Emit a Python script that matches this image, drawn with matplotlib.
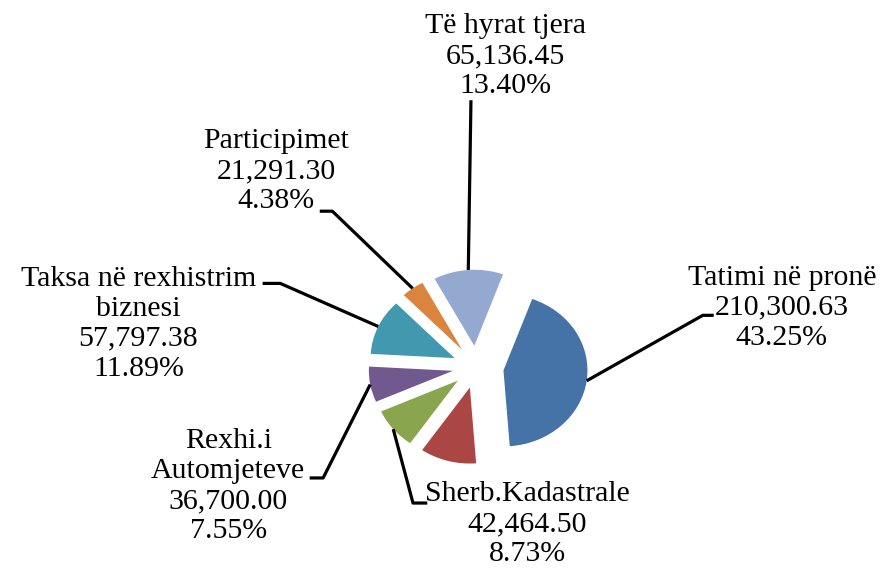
import numpy as np
import matplotlib
matplotlib.use('Agg')
import matplotlib.pyplot as plt

plt.rcParams['font.family'] = ['Liberation Serif', 'DejaVu Serif']

# data (one slice has no label in the original)
categories = ['Tatimi në pronë', '', 'Sherb.Kadastrale', 'Rexhi.i\nAutomjeteve',
              'Taksa në rexhistrim\nbiznesi', 'Participimet', 'Të hyrat tjera']
values = [210300.63, 52553.97, 42464.50, 36700.00, 57797.38, 21291.30, 65136.45]
colors = ['#4572A7', '#AA4643', '#89A54E', '#71588F', '#4198AF', '#DB843D', '#93A9CF']
explode = [0.33, 0.28, 0.28, 0.28, 0.28, 0.28, 0.28]

# label layout: elbow points of leader lines + text centre (data units)
leaders = [
    [(2.70, 0.68), (2.83, 0.68)],
    None,
    [(-0.75, -1.79), (-0.58, -1.79)],
    [(-1.82, -1.46), (-1.98, -1.46)],
    [(-2.33, 1.10), (-2.54, 1.10)],
    [(-1.71, 2.05), (-1.86, 2.05)],
    [(-0.06, 3.51)],
]
text_pos = [(3.64, 0.78), None, (0.61, -2.07), (-2.95, -1.57),
            (-4.02, 0.57), (-2.38, 2.58), (0.35, 4.09)]

fig = plt.figure(figsize=(8.9, 5.69), dpi=100)
ax = fig.add_axes([0, 0, 1, 1])

wedges, _ = ax.pie(values, colors=colors, explode=explode, startangle=70,
                   counterclock=False, radius=1,
                   wedgeprops=dict(linewidth=0))

total = sum(values)
for w, name, v, lead, pos in zip(wedges, categories, values, leaders, text_pos):
    if not name:
        continue
    mid = np.deg2rad((w.theta1 + w.theta2) / 2)
    cx, cy = w.center
    xs = [cx + w.r * np.cos(mid)] + [p[0] for p in lead]
    ys = [cy + w.r * np.sin(mid)] + [p[1] for p in lead]
    ax.plot(xs, ys, color='black', lw=2.3, solid_capstyle='butt')
    txt = f'{name}\n{v:,.2f}\n{v / total * 100:.2f}%'
    ax.text(pos[0], pos[1], txt, ha='center', va='center', multialignment='center',
            fontsize=21.5, linespacing=1.2)

# the original pie is a bit wider than tall
ax.set_aspect('auto')
ax.set_xlim(-476 / 84, (890 - 476) / 84)
ax.set_ylim(-(569 - 367) / 76, 367 / 76)
ax.axis('off')

fig.savefig('out.png', dpi=100)
